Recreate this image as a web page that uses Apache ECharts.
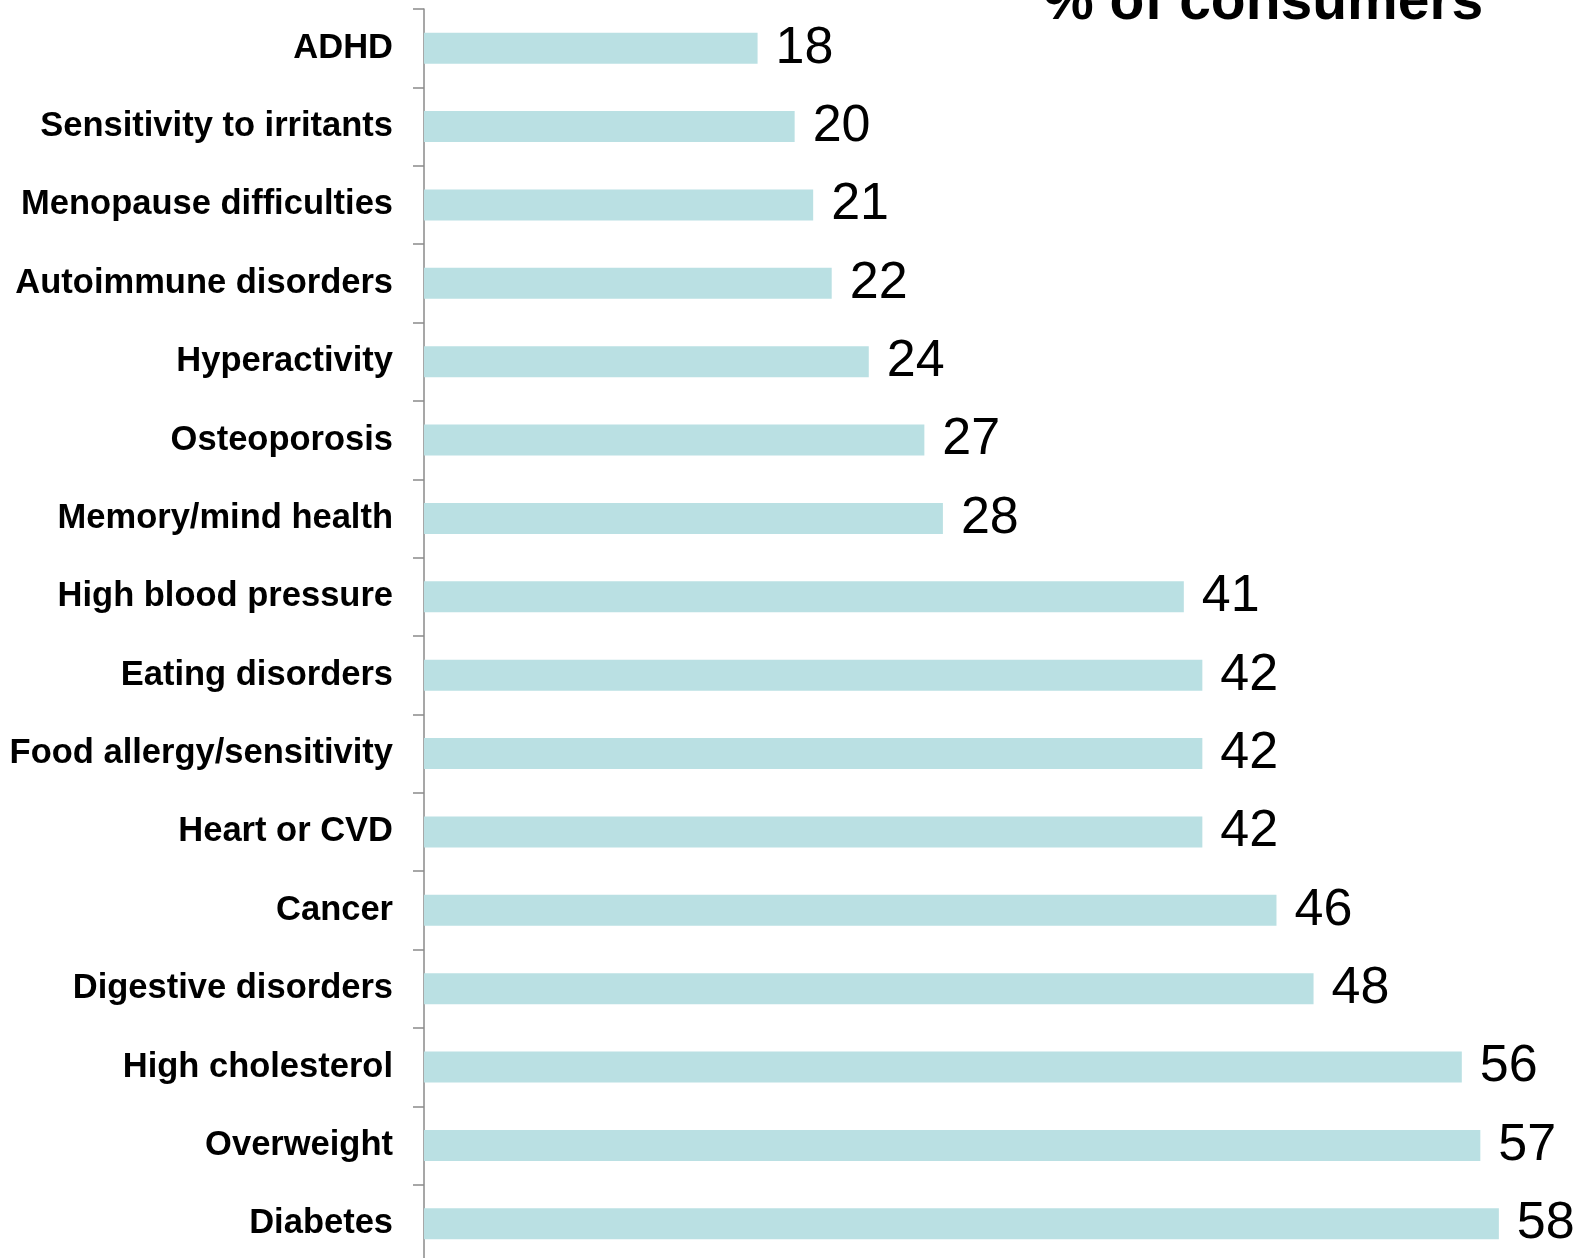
<!DOCTYPE html>
<html>
<head>
<meta charset="utf-8">
<title>Health conditions – % of consumers</title>
<script src="https://cdn.jsdelivr.net/npm/echarts@6/dist/echarts.min.js"></script>
<style>
  html, body { margin: 0; padding: 0; background: #ffffff; }
  #chart { width: 1581px; height: 1258px; }
</style>
</head>
<body>
<div id="chart"></div>
<script>
// Conditions, listed top to bottom
const conditions = [
  'ADHD',
  'Sensitivity to irritants',
  'Menopause difficulties',
  'Autoimmune disorders',
  'Hyperactivity',
  'Osteoporosis',
  'Memory/mind health',
  'High blood pressure',
  'Eating disorders',
  'Food allergy/sensitivity',
  'Heart or CVD',
  'Cancer',
  'Digestive disorders',
  'High cholesterol',
  'Overweight',
  'Diabetes'
];

// Share of consumers (%) for each condition
const shares = [18, 20, 21, 22, 24, 27, 28, 41, 42, 42, 42, 46, 48, 56, 57, 58];

const chartTitle = '% of consumers';

const chart = echarts.init(document.getElementById('chart'), null, { renderer: 'canvas' });

chart.setOption({
  animation: false,
  backgroundColor: '#ffffff',
  title: {
    text: chartTitle,
    left: 1043,
    top: -25,
    padding: 0,
    textStyle: {
      fontFamily: '"Liberation Sans", Arial, sans-serif',
      fontSize: 57,
      fontWeight: 'bold',
      color: '#000000'
    }
  },
  grid: {
    left: 424,
    top: 9,
    width: 1149,
    height: 1254,
    containLabel: false,
    // the last band runs a little past the bottom edge of the canvas
    outerBoundsMode: 'none'
  },
  xAxis: {
    type: 'value',
    min: 0,
    max: 62,
    show: false
  },
  yAxis: {
    type: 'category',
    inverse: true,
    data: conditions,
    axisLine: {
      show: true,
      lineStyle: { color: '#8a8a8a', width: 1.5 }
    },
    axisTick: {
      show: true,
      length: 11,
      lineStyle: { color: '#8a8a8a', width: 1.5 }
    },
    axisLabel: {
      margin: 31,
      fontFamily: '"Liberation Sans", Arial, sans-serif',
      fontSize: 34.5,
      fontWeight: 'bold',
      color: '#000000'
    },
    splitLine: { show: false }
  },
  series: [{
    type: 'bar',
    data: shares,
    barWidth: 31,
    itemStyle: { color: '#bae0e3' },
    label: {
      show: true,
      position: 'right',
      distance: 18,
      fontFamily: '"Liberation Sans", Arial, sans-serif',
      fontSize: 52,
      color: '#000000'
    }
  }]
});
</script>
</body>
</html>
